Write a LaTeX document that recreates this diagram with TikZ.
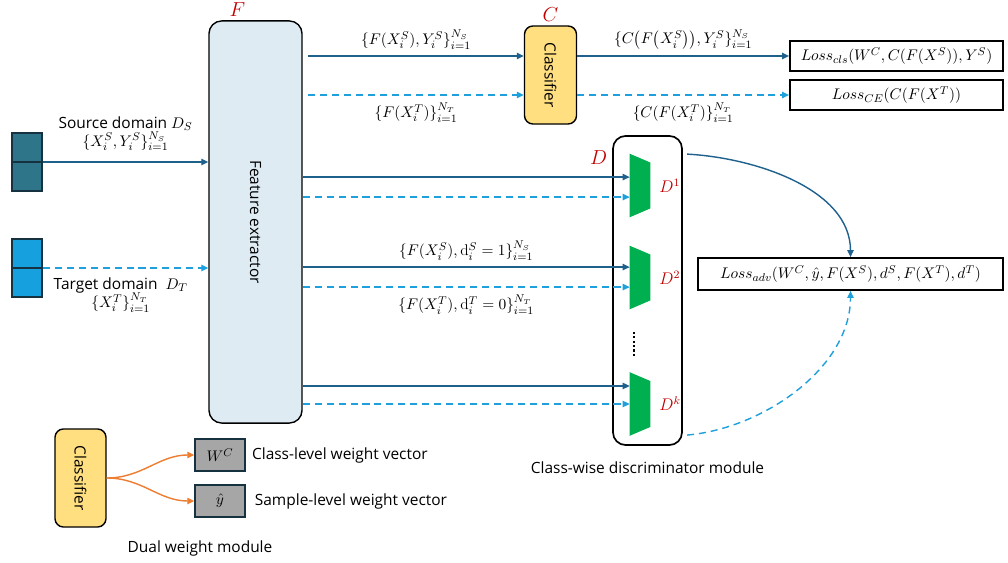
\documentclass[tikz,border=0pt]{standalone}
\usepackage{amsmath}
\usepackage{fontspec}
\setsansfont{Open Sans}
\usetikzlibrary{arrows.meta,positioning,calc}

\definecolor{srcblue}{RGB}{31,97,141}
\definecolor{tgtblue}{RGB}{30,160,220}
\definecolor{srcfill}{RGB}{47,117,138}
\definecolor{tgtfill}{RGB}{22,160,222}
\definecolor{blkline}{RGB}{22,50,64}
\definecolor{fefill}{RGB}{222,235,243}
\definecolor{clffill}{RGB}{255,223,128}
\definecolor{discgreen}{RGB}{0,176,80}
\definecolor{labred}{RGB}{192,0,0}
\definecolor{wfill}{RGB}{166,166,166}
\definecolor{orgline}{RGB}{237,125,49}

\begin{document}
\begin{tikzpicture}[
    x=0.025cm, y=-0.025cm,
    >={Triangle[length=5pt,width=4.5pt]},
    font=\sffamily\fontsize{11}{13}\selectfont,
    blk/.style={rectangle,draw=blkline,line width=1.2pt,minimum width=0.75cm,minimum height=1.45cm,inner sep=0pt},
    fe/.style={rectangle,draw,line width=1pt,rounded corners=9pt,fill=fefill,minimum width=10.05cm,minimum height=2.325cm,rotate=-90},
    clf/.style={rectangle,draw,line width=1pt,rounded corners=6pt,fill=clffill,minimum width=2.45cm,minimum height=1.3cm,rotate=-90},
    lossbox/.style={rectangle,draw,line width=1.2pt,minimum width=5.325cm,minimum height=0.75cm,inner sep=1pt,font=\fontsize{11.3}{13}\selectfont},
    wbox/.style={rectangle,draw=blkline,line width=1pt,fill=wfill,minimum width=1.25cm,minimum height=0.8cm},
    disc/.style={rectangle,minimum width=0.5cm,minimum height=1.575cm,inner sep=0pt},
    redlab/.style={text=labred,font=\Large},
    srcarr/.style={->,draw=srcblue,line width=1pt},
    tgtarr/.style={->,draw=tgtblue,line width=1pt,dash pattern=on 5pt off 3.5pt},
    orgarr/.style={->,draw=orgline,line width=1pt}]
    \useasboundingbox (0,0) rectangle (1008,563);

    % feature extractor and inputs
    \node[fe] (fe) at (255.5,222) {Feature extractor};
    \node[redlab,above=-1pt of fe.west,xshift=-0.45cm] (flab) {$F$};
    \node[blk,fill=srcfill] (src) at (27,162) {};
    \node[blk,fill=tgtfill] (tgt) at (27,268) {};
    \draw[draw=blkline,line width=1.2pt] (src.west) -- (src.east);
    \draw[draw=blkline,line width=1.2pt] (tgt.west) -- (tgt.east);
    \draw[srcarr] (src.east) -- node[above=4pt,align=center]{Source domain $D_S$\\$\{X_i^S,Y_i^S\}_{i=1}^{N_S}$} (src.east -| fe.south);
    \draw[tgtarr] (tgt.east) -- node[below=3pt,align=center,xshift=-0.12cm]{Target domain\ \ $D_T$\\$\{X_i^T\}_{i=1}^{N_T}$} (tgt.east -| fe.south);

    % classifier branch
    \node[clf] (clf) at (550.5,75) {Classifier};
    \node[redlab,above=-1pt of clf.west] (clab) {$C$};
    \node[lossbox] (lcls) at (896.5,56) {$Loss_{cls}(W^C,C(F(X^S)),Y^S)$};
    \node[lossbox] (lce) at (896.5,95) {$Loss_{CE}(C(F(X^T))$};
    \draw[srcarr] ([xshift=4pt]fe.north |- lcls.west) -- node[above=1pt]{$\{F(X_i^S),Y_i^S\}_{i=1}^{N_S}$} (clf.south |- lcls.west);
    \draw[tgtarr] ([xshift=4pt]fe.north |- lce.west) -- node[below=2pt]{$\{F(X_i^T)\}_{i=1}^{N_T}$} (clf.south |- lce.west);
    \draw[srcarr] (clf.north |- lcls.west) -- node[above=1pt]{$\{C\bigl(F\bigl(X_i^S\bigr)\bigr),Y_i^S\}_{i=1}^{N_S}$} (lcls.west);
    \draw[tgtarr] (clf.north |- lce.west) -- node[below=2pt]{$\{C(F(X_i^T)\}_{i=1}^{N_T}$} (lce.west);

    % class-wise discriminators
    \node[draw,line width=1.2pt,rounded corners=9pt,minimum width=1.725cm,minimum height=7.725cm] (dmod) at (647.5,290.5) {};
    \node[redlab,left=0pt of dmod.north west,yshift=-0.55cm] (dlab) {$D$};
    \node[below=8pt of dmod] (dmodlab) {Class-wise discriminator module};
    \node[disc] (d1) at (640,185.5) {};
    \node[disc] (d2) at (640,277.5) {};
    \node[disc] (dk) at (640,404) {};
    \foreach \d/\sup in {d1/1,d2/2,dk/k}{
      \fill[discgreen] (\d.north west) -- ([yshift=-0.22cm]\d.north east) -- ([yshift=0.22cm]\d.south east) -- (\d.south west) -- cycle;
      \node[text=labred,font=\large,right=3pt of \d] (\d lab) {$D^{\sup}$};
    }
    \draw[line width=1.5pt,dash pattern=on 1.5pt off 1.6pt] (634,332) -- (634,358);
    \foreach \d/\s/\t in {d1/0.21/-0.29,dk/0.45/0.0}{
      \coordinate (\d s) at ([yshift=\s cm]\d.west);
      \coordinate (\d t) at ([yshift=\t cm]\d.west);
      \draw[srcarr] (fe.north |- \d s) -- (\d s);
      \draw[tgtarr] (fe.north |- \d t) -- (\d t);
    }
    \coordinate (d2s) at ([yshift=0.26cm]d2.west);
    \coordinate (d2t) at ([yshift=-0.24cm]d2.west);
    \draw[srcarr] (fe.north |- d2s) -- node[above=1pt]{$\{F(X_i^S),\mathrm{d}_i^S=1\}_{i=1}^{N_S}$} (d2s);
    \draw[tgtarr] (fe.north |- d2t) -- node[below=2pt]{$\{F(X_i^T),\mathrm{d}_i^T=0\}_{i=1}^{N_T}$} (d2t);

    % adversarial loss
    \node[lossbox,minimum width=7.625cm,minimum height=0.8cm] (ladv) at (850.5,274) {$Loss_{adv}(W^C,\hat{y},F(X^S),d^S,F(X^T),d^T)$};
    \draw[srcarr] ([xshift=3pt,yshift=-0.475cm]dmod.north east) to[out=-3,in=90,looseness=0.9] (ladv.north);
    \draw[tgtarr] ([xshift=3pt,yshift=0.27cm]dmod.south east) to[out=5,in=-90,looseness=0.9] (ladv.south);

    % dual weight module
    \node[clf,minimum height=1.275cm] (clf2) at (80.5,478) {Classifier};
    \node[wbox] (wc) at (220,455) {$W^C$};
    \node[wbox] (yh) at (220,501) {$\hat{y}$};
    \draw[orgarr] (clf2.north) to[out=0,in=180] (wc.west);
    \draw[orgarr] (clf2.north) to[out=0,in=180] (yh.west);
    \node[right=1pt of wc] (wclab) {Class-level weight vector};
    \node[right=3pt of yh] (yhlab) {Sample-level weight vector};
    \node (dwlab) at (200,548) {Dual weight module};
\end{tikzpicture}
\end{document}
